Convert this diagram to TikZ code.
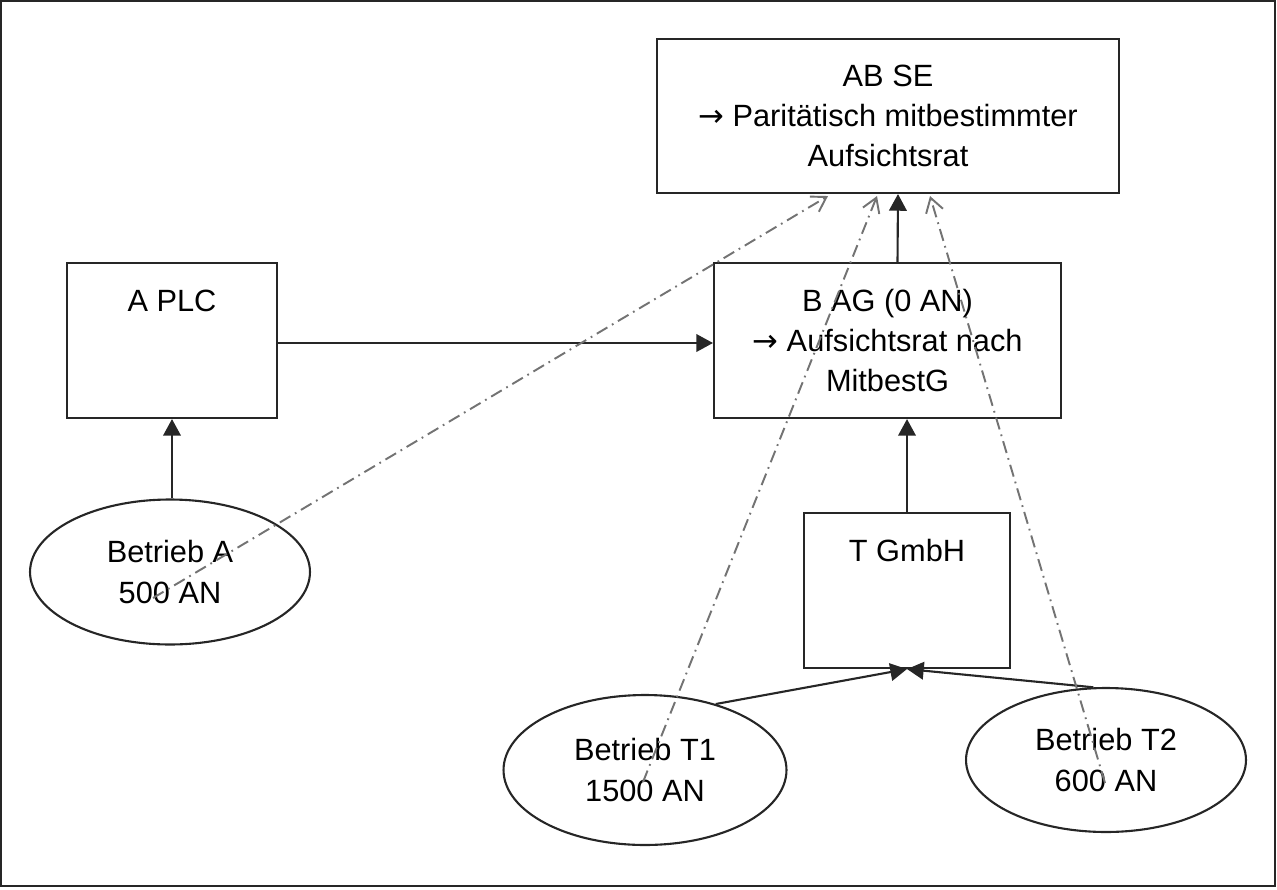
\documentclass[tikz,border=0pt]{standalone}
\usepackage{fontspec}
\setmainfont{Liberation Sans}
\newfontfamily\arrowfont{DejaVu Sans}
\usetikzlibrary{shapes.geometric,arrows.meta,positioning,calc}

\newcommand{\thento}{{\arrowfont →}}

\begin{document}
\begin{tikzpicture}[x=0.02cm, y=-0.02cm,
    % Define styles
    company/.style={rectangle, draw=black!85, line width=1.2pt, text centered, align=center, font=\fontsize{17.5}{22.8}\selectfont},
    site/.style={ellipse, draw=black!85, line width=1.2pt, minimum width=5.6cm, minimum height=2.9cm, text centered, align=center, font=\fontsize{17.5}{22.8}\selectfont},
    arrow/.style={-{Triangle[length=9.5pt, width=10pt]}, line width=1.2pt, black!85},
    influence/.style={-{Straight Barb[length=8pt, width=10pt]}, line width=1.1pt, black!55, dash pattern=on 7pt off 3pt on 1pt off 3pt}
]

% Frame
\useasboundingbox (0,0) rectangle (1277,889);
\draw[line width=1.3pt, black!85] (1,1) rectangle (1275,886);

% Companies
\node[company, minimum width=9.24cm, minimum height=3.08cm] (abse) at (888,116) {AB SE\\\thento{} Paritätisch mitbestimmter\\Aufsichtsrat};
\node[company, minimum width=4.2cm, minimum height=3.1cm] (aplc) at (172,340.5) {A PLC\\~\\~};
\node[company, minimum width=6.94cm, minimum height=3.1cm] (bag) at (887.5,340.5) {B AG (0 AN)\\\thento{} Aufsichtsrat nach\\MitbestG};
\node[company, minimum width=4.12cm, minimum height=3.1cm] (tgmbh) at (907,590.5) {T GmbH\\~\\~};

% Sites
\node[site] (betra) at (170,572) {Betrieb A\\500 AN};
\node[site, minimum width=5.66cm, minimum height=3cm] (betrt1) at (645,770) {Betrieb T1\\1500 AN};
\node[site, minimum height=2.88cm] (betrt2) at (1106,760) {Betrieb T2\\600 AN};

% Start points of the dash-dot lines
\coordinate (fromA) at ($(betra.center)+(-17,26)$);
\coordinate (fromT1) at ($(betrt1.center)+(-2,12)$);
\coordinate (fromT2) at ($(betrt2.center)+(-1,23)$);

% Connections
\draw[arrow] (aplc.south |- betra.north) -- (aplc.south);
\draw[arrow] ($(aplc.east)+(0,2.5)$) -- ($(aplc.east -| bag.west)+(0,2.5)$);
\draw[arrow] (tgmbh.north) -- (tgmbh.north |- bag.south);
\draw[arrow] ($(bag.north)+(10,0)$) -- ($(abse.south)+(10,0)$);
\draw[arrow] (betrt1.43) -- (tgmbh.south);
\draw[arrow] (betrt2.100) -- (tgmbh.south);

% Dash-dot lines to the SE
\draw[influence] (fromA) -- ($(abse.south)+(-60,2)$);
\draw[influence] (fromT1) -- ($(abse.south)+(-11,2)$);
\draw[influence] (fromT2) -- ($(abse.south)+(42,2)$);

\end{tikzpicture}
\end{document}
